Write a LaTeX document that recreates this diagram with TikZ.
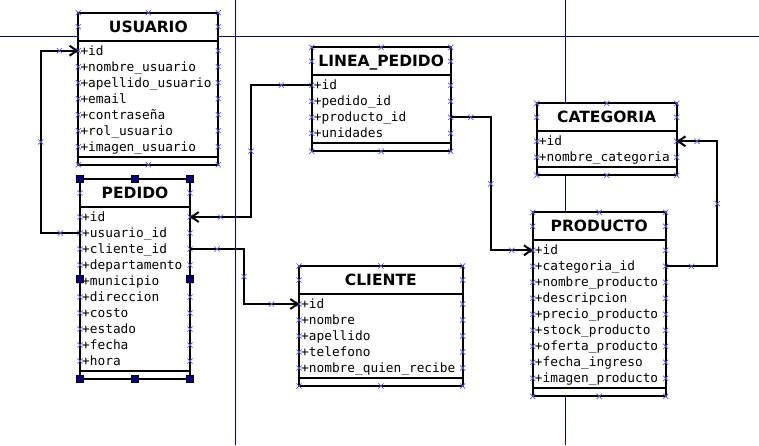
\documentclass[tikz,border=0pt]{standalone}
\usepackage{fontspec}
\setmainfont{DejaVu Sans}
\setmonofont{DejaVu Sans Mono}
\usepackage{tikz}
\usetikzlibrary{calc,arrows.meta}

\definecolor{guia}{RGB}{0,0,140}
\definecolor{marca}{RGB}{90,90,240}
\definecolor{asa}{RGB}{0,0,128}

\tikzset{
  caja/.style={line width=2pt, fill=white},
  titulo/.style={font=\fontsize{15.5}{18}\selectfont\bfseries, inner sep=0pt, text height=11.3pt, text depth=0pt},
  campo/.style={font=\fontsize{12.8}{16}\ttfamily, anchor=west, inner xsep=2pt, inner ysep=0pt, text height=9.3pt, text depth=0pt},
  conector/.style={line width=2pt, -{Straight Barb[length=7pt,width=10pt,line width=2pt]}},
  linea guia/.style={guia, line width=1pt},
  cruz/.pic={\draw[marca, line width=.7pt] (-2.6,-2.6) -- (2.6,2.6) (-2.6,2.6) -- (2.6,-2.6);},
  asa/.pic={\filldraw[fill=asa, draw=black, line width=.5pt] (-3.5,-3.5) rectangle (3.5,3.5);}
}

% #1 name, #2 (left,top), #3 width, #4 title, #5 number of rows, #6 rows
\newcommand{\tabla}[6]{%
  \begin{scope}[shift={#2}]
    \pgfmathsetmacro\alto{40+16*#5}
    \draw[caja] (0,0) rectangle (#3,\alto);
    \draw[line width=2pt] (0,28) -- (#3,28) (0,\alto-8) -- (#3,\alto-8);
    \node[titulo] (#1) at (#3/2,14) {#4};
    \foreach \fila [count=\i] in {#6} {
      \node[campo] (#1-\i) at (0,22+16*\i) {\fila};
      \coordinate (#1-\i-e) at (#3,22+16*\i);
      \pic at (0,22+16*\i) {cruz};
      \pic at (#3,22+16*\i) {cruz};
    }
    \foreach \px/\py in {0/0,0.5/0,1/0,0/14,1/14,0/\alto,0.5/\alto,1/\alto}
      \pic at (\px*#3,\py) {cruz};
  \end{scope}}

\begin{document}
\begin{tikzpicture}[x=1pt, y=-1pt]
\useasboundingbox (0,0) rectangle (759,445);

% guias
\draw[linea guia] (0,36.5) -- (759,36.5);
\draw[linea guia] (235.5,0) -- (235.5,445);
\draw[linea guia] (565.5,0) -- (565.5,445);

% tablas
\tabla{usuario}{(78.3,12.7)}{140}{USUARIO}{7}{+id,+nombre\_usuario,+apellido\_usuario,+email,+contraseña,+rol\_usuario,+imagen\_usuario}
\tabla{pedido}{(80,179)}{110}{PEDIDO}{10}{+id,+usuario\_id,+cliente\_id,+departamento,+municipio,+direccion,+costo,+estado,+fecha,+hora}
\tabla{linea}{(311.7,47.3)}{139}{LINEA\_PEDIDO}{4}{+id,+pedido\_id,+producto\_id,+unidades}
\tabla{cliente}{(299,266)}{163.7}{CLIENTE}{5}{+id,+nombre,+apellido,+telefono,+nombre\_quien\_recibe}
\tabla{categoria}{(536.7,103.3)}{140}{CATEGORIA}{2}{+id,+nombre\_categoria}
\tabla{producto}{(532.7,212.3)}{133}{PRODUCTO}{9}{+id,+categoria\_id,+nombre\_producto,+descripcion,+precio\_producto,+stock\_producto,+oferta\_producto,+fecha\_ingreso,+imagen\_producto}

% relaciones
\draw[conector] (pedido-2.west) -- ++(-39.3,0) coordinate[pos=.5] (m1a)
  |- (usuario-1.west) coordinate[pos=.25] (m1b) coordinate[pos=.75] (m1c);
\draw[conector] (linea-1.west) -- ++(-60.7,0) coordinate[pos=.5] (m2a)
  |- (pedido-1-e) coordinate[pos=.25] (m2b) coordinate[pos=.75] (m2c);
\draw[conector] (pedido-3-e) -- ++(54,0) coordinate[pos=.5] (m3a)
  |- (cliente-1.west) coordinate[pos=.25] (m3b) coordinate[pos=.75] (m3c);
\draw[conector] (linea-3-e) -- ++(40,0) coordinate[pos=.5] (m4a)
  |- (producto-1.west) coordinate[pos=.25] (m4b) coordinate[pos=.75] (m4c);
\draw[conector] (producto-2-e) -- ++(51.6,0) coordinate[pos=.5] (m5a)
  |- (categoria-1-e) coordinate[pos=.25] (m5b) coordinate[pos=.75] (m5c);
\foreach \m in {1,...,5}
  \foreach \s in {a,b,c}
    \pic at (m\m\s) {cruz};

% seleccion de PEDIDO
\foreach \hx/\hy in {80/179,135/179,190/179,80/279,190/279,80/379,135/379,190/379}
  \pic at (\hx,\hy) {asa};
\end{tikzpicture}
\end{document}
